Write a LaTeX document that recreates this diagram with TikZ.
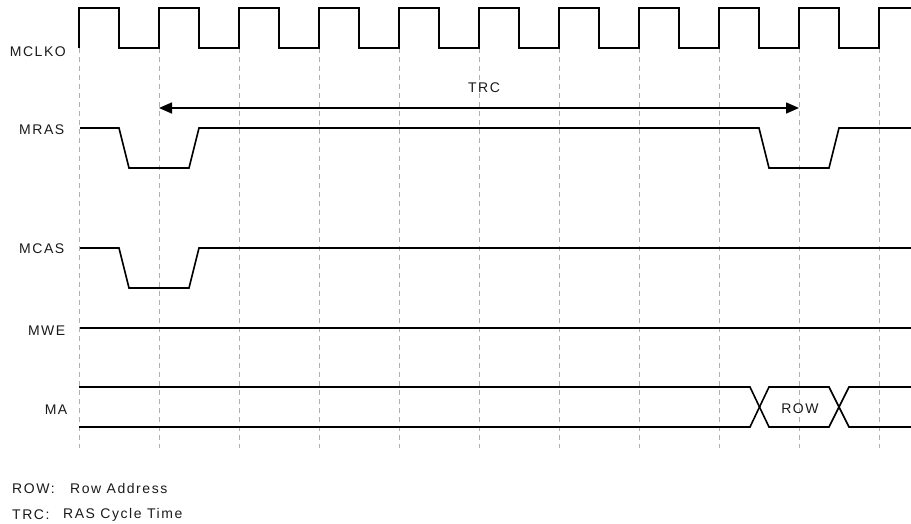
\documentclass[tikz,border=0pt]{standalone}
\usepackage{fontspec}
\setmainfont{Liberation Sans}
\newfontfamily\spfont[LetterSpace=11]{Liberation Sans}
\usetikzlibrary{arrows.meta}
\definecolor{txt}{HTML}{1A1A1A}
\definecolor{grid}{HTML}{B0B0B0}
\begin{document}
\begin{tikzpicture}[x=1pt,y=-1pt,
  sig/.style={line width=1.6pt,line join=miter,black},
  gridline/.style={grid,line width=0.6pt,dash pattern=on 5pt off 4pt},
  tx/.style={text=txt,font=\spfont\fontsize{14}{16}\selectfont,inner sep=0pt},
  lbl/.style={tx,anchor=east},
  note/.style={tx,anchor=west},
  dim/.style={line width=1.6pt,{Triangle[length=13pt,width=11pt]}-{Triangle[length=13pt,width=11pt]}}]
\useasboundingbox (0,0) rectangle (911,523);
% grid
\foreach \i in {0,...,10} {
  \draw[gridline] ({79+80*\i},48) -- ({79+80*\i},448);
}
% clock
\draw[sig] (79,48) -- (79,8)
  \foreach \i in {0,...,9} { -- ({119+80*\i},8) -- ({119+80*\i},48) -- ({159+80*\i},48) -- ({159+80*\i},8) }
  -- (911,8);
% MRAS
\draw[sig] (80,128) -- (119,128) -- (129,168) -- (189,168) -- (199,128) -- (759,128) -- (769,168) -- (829,168) -- (839,128) -- (911,128);
% MCAS
\draw[sig] (80,248) -- (119,248) -- (129,288) -- (189,288) -- (199,248) -- (911,248);
% MWE
\draw[sig] (80,328) -- (911,328);
% MA
\draw[sig] (79,387) -- (750,387) -- (769,427) -- (829,427) -- (849,387) -- (911,387);
\draw[sig] (79,427) -- (750,427) -- (769,387) -- (829,387) -- (849,427) -- (911,427);
% TRC
\coordinate (trcA) at (159,108);
\coordinate (trcB) at (799,108);
\draw[dim] (trcA) -- (trcB);
\node[tx] (trc) at (484,87.3) {TRC};
\node[tx] (row) at (800,408.5) {ROW};
% labels
\node[lbl] (mclko) at (66,51.5) {MCLKO};
\node[lbl] (mras) at (64.5,129.5) {MRAS};
\node[lbl] (mcas) at (64.5,249) {MCAS};
\node[lbl] (mwe) at (65.5,330.5) {MWE};
\node[lbl] (ma) at (67.5,409.5) {MA};
% legend
\node[note] (n1a) at (12,488.7) {ROW:};
\node[note] (n1b) at (70,488.7) {Row Address};
\node[note] (n2a) at (12,514.7) {TRC:};
\node[note] (n2b) at (63,514.7) {RAS Cycle Time};
\end{tikzpicture}
\end{document}
